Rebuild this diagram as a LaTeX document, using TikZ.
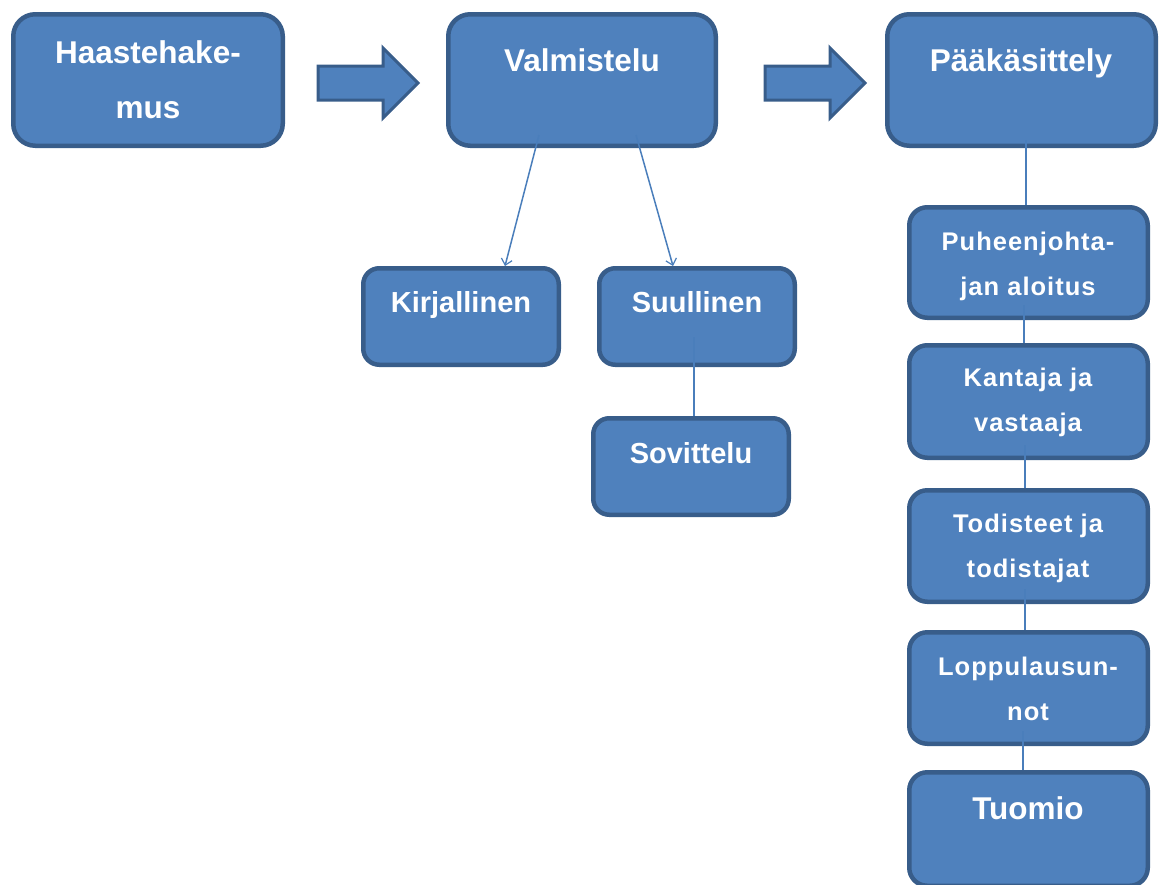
\documentclass[tikz,border=0pt]{standalone}
\usepackage{fontspec}
\setmainfont{Liberation Sans}
\newfontfamily\spacedfont[LetterSpace=4]{Liberation Sans}
\usetikzlibrary{arrows.meta}
\definecolor{boxfill}{HTML}{4F81BD}
\definecolor{boxline}{HTML}{385D8A}
\definecolor{conn}{HTML}{4A7EBB}
\tikzset{
  boxst/.style={draw=boxline, fill=boxfill, line width=4.5pt, inner sep=0pt},
  txt/.style={text=white, font=\bfseries, align=center, anchor=base, inner sep=0pt},
  bigtxt/.style={txt, font={\fontsize{31.5}{55}\selectfont\bfseries}},
  midtxt/.style={txt, font={\fontsize{29}{44}\selectfont\bfseries}},
  smalltxt/.style={txt, font={\spacedfont\fontsize{25.5}{44.5}\selectfont\bfseries}},
  connline/.style={draw=conn, line width=1.5pt},
  connarrow/.style={connline, -{Straight Barb[length=6pt,width=11pt,line width=1.2pt]}},
  blockarrow/.style={draw=boxline, fill=boxfill, line width=3pt, line join=miter}
}
\newcommand\mkbox[6]{% name, x1, y1, x2, y2, radius
  \node[boxst, rounded corners=#6pt, minimum width={(#4-#2-4.5)*1pt}, minimum height={(#5-#3-4.5)*1pt}]
    (#1) at ({(#2+#4)/2},{(#3+#5)/2}) {};
}
\begin{document}
\begin{tikzpicture}[x=1pt,y=-1pt]
\useasboundingbox (0,0) rectangle (1162,884);

% top row
\mkbox{haaste}{11}{12}{285}{148}{22}
\mkbox{valm}{446}{12}{718}{148}{22}
\mkbox{paak}{885}{12}{1158}{148}{22}
\node[bigtxt] (haaste-t) at (148,118) {Haastehake-\\mus};
\node[bigtxt] (valm-t) at (582,71) {Valmistelu};
\node[bigtxt] (paak-t) at (1021,71) {Pääkäsittely};

% block arrows
\draw[blockarrow] (318,66) -- (383,66) -- (383,48) -- (418,83) -- (383,118) -- (383,100) -- (318,100) -- cycle;
\draw[blockarrow] (765,66) -- (830,66) -- (830,48) -- (865,83) -- (830,118) -- (830,100) -- (765,100) -- cycle;

% preparation branch
\mkbox{kirj}{361}{266}{561}{367}{16}
\mkbox{suul}{597}{266}{797}{367}{16}
\mkbox{sovi}{591}{416}{791}{517}{16}
\node[midtxt] (kirj-t) at (461,312) {Kirjallinen};
\node[midtxt] (suul-t) at (697,312) {Suullinen};
\node[midtxt] (sovi-t) at (691,463) {Sovittelu};

\coordinate (v1) at (539,135);
\coordinate (v2) at (636,135);
\draw[connarrow] (v1) -- (kirj.north -| 505,0);
\draw[connarrow] (v2) -- (suul.north -| 673,0);
\coordinate (s1) at (694,337);
\draw[connline] (s1) -- (sovi.north -| s1);

% main hearing column
\mkbox{puhe}{907}{205}{1150}{320}{18}
\mkbox{kant}{907}{343}{1150}{460}{18}
\mkbox{todi}{907}{488}{1150}{604}{18}
\mkbox{lopp}{907}{630}{1150}{746}{18}
\mkbox{tuom}{907}{770}{1150}{888}{18}
\node[smalltxt] (puhe-t) at (1028,295) {Puheenjohta-\\jan aloitus};
\node[smalltxt] (kant-t) at (1028,431) {Kantaja ja\\vastaaja};
\node[smalltxt] (todi-t) at (1028,577) {Todisteet ja\\todistajat};
\node[smalltxt] (lopp-t) at (1028,720) {Loppulausun-\\not};
\node[bigtxt] (tuom-t) at (1028,819) {Tuomio};

\coordinate (p0) at (1026,140);
\draw[connline] (p0) -- (puhe.north -| p0);
\coordinate (p1) at (1024,305);
\draw[connline] (p1) -- (kant.north -| p1);
\coordinate (p2) at (1025,445);
\draw[connline] (p2) -- (todi.north -| p2);
\coordinate (p3) at (1025,589);
\draw[connline] (p3) -- (lopp.north -| p3);
\coordinate (p4) at (1023,731);
\draw[connline] (p4) -- (tuom.north -| p4);
\end{tikzpicture}
\end{document}
